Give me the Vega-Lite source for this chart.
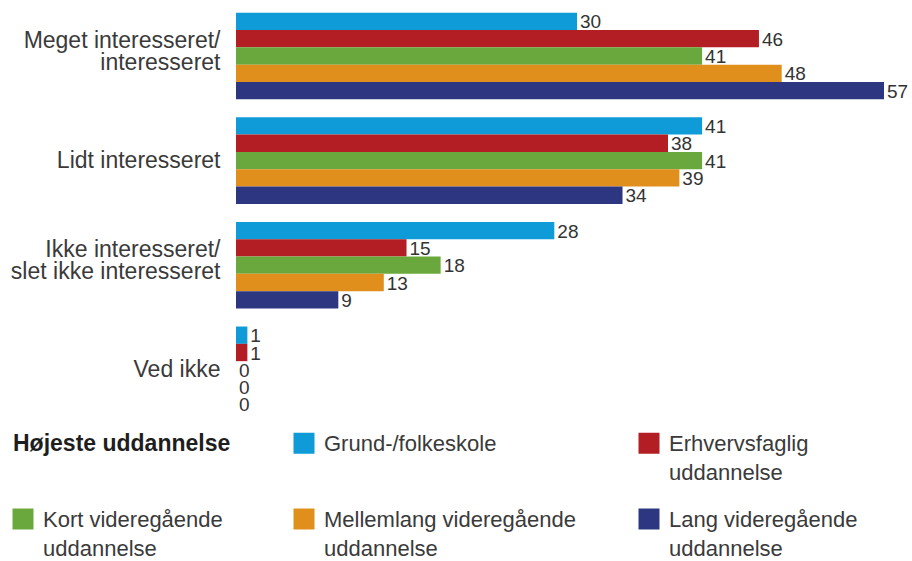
{
  "$schema": "https://vega.github.io/schema/vega-lite/v6.json",
  "width": 648,
  "height": 425.8,
  "autosize": {"type": "none"},
  "padding": {"left": 236, "top": 0, "right": 28, "bottom": 135.2},
  "background": "white",
  "config": {"view": {"stroke": null}, "font": "Liberation Sans"},
  "data": {
    "values": [
      {"svar": "Meget interesseret/interesseret", "uddannelse": "Grund-/folkeskole", "pct": 30},
      {"svar": "Meget interesseret/interesseret", "uddannelse": "Erhvervsfaglig uddannelse", "pct": 46},
      {"svar": "Meget interesseret/interesseret", "uddannelse": "Kort videregående uddannelse", "pct": 41},
      {"svar": "Meget interesseret/interesseret", "uddannelse": "Mellemlang videregående uddannelse", "pct": 48},
      {"svar": "Meget interesseret/interesseret", "uddannelse": "Lang videregående uddannelse", "pct": 57},
      {"svar": "Lidt interesseret", "uddannelse": "Grund-/folkeskole", "pct": 41},
      {"svar": "Lidt interesseret", "uddannelse": "Erhvervsfaglig uddannelse", "pct": 38},
      {"svar": "Lidt interesseret", "uddannelse": "Kort videregående uddannelse", "pct": 41},
      {"svar": "Lidt interesseret", "uddannelse": "Mellemlang videregående uddannelse", "pct": 39},
      {"svar": "Lidt interesseret", "uddannelse": "Lang videregående uddannelse", "pct": 34},
      {"svar": "Ikke interesseret/slet ikke interesseret", "uddannelse": "Grund-/folkeskole", "pct": 28},
      {"svar": "Ikke interesseret/slet ikke interesseret", "uddannelse": "Erhvervsfaglig uddannelse", "pct": 15},
      {"svar": "Ikke interesseret/slet ikke interesseret", "uddannelse": "Kort videregående uddannelse", "pct": 18},
      {"svar": "Ikke interesseret/slet ikke interesseret", "uddannelse": "Mellemlang videregående uddannelse", "pct": 13},
      {"svar": "Ikke interesseret/slet ikke interesseret", "uddannelse": "Lang videregående uddannelse", "pct": 9},
      {"svar": "Ved ikke", "uddannelse": "Grund-/folkeskole", "pct": 1},
      {"svar": "Ved ikke", "uddannelse": "Erhvervsfaglig uddannelse", "pct": 1},
      {"svar": "Ved ikke", "uddannelse": "Kort videregående uddannelse", "pct": 0},
      {"svar": "Ved ikke", "uddannelse": "Mellemlang videregående uddannelse", "pct": 0},
      {"svar": "Ved ikke", "uddannelse": "Lang videregående uddannelse", "pct": 0}
    ]
  },
  "encoding": {
    "y": {
      "field": "svar",
      "type": "nominal",
      "sort": ["Meget interesseret/interesseret", "Lidt interesseret", "Ikke interesseret/slet ikke interesseret", "Ved ikke"],
      "scale": {"paddingInner": 0.172, "paddingOuter": 0.121},
      "axis": {
        "title": null,
        "domain": false,
        "ticks": false,
        "grid": false,
        "labelPadding": 16,
        "labelFont": "Liberation Sans",
        "labelFontSize": 23,
        "labelColor": "#3a3a3a",
        "labelLineHeight": 22,
        "labelLimit": 300,
        "labelOffset": {"condition": {"test": "indexof(datum.label, '/') > 0", "value": -15}, "value": 0},
        "labelExpr": "indexof(datum.label, '/') > 0 ? [substring(datum.label, 0, indexof(datum.label, '/') + 1), substring(datum.label, indexof(datum.label, '/') + 1)] : datum.label"
      }
    },
    "yOffset": {
      "field": "uddannelse",
      "type": "nominal",
      "scale": {
        "domain": ["Grund-/folkeskole", "Erhvervsfaglig uddannelse", "Kort videregående uddannelse", "Mellemlang videregående uddannelse", "Lang videregående uddannelse"],
        "paddingInner": 0,
        "paddingOuter": 0
      }
    },
    "x": {
      "field": "pct",
      "type": "quantitative",
      "scale": {"domain": [0, 57], "nice": false},
      "axis": null
    }
  },
  "layer": [
    {
      "mark": {"type": "bar"},
      "encoding": {
        "color": {
          "field": "uddannelse",
          "type": "nominal",
          "scale": {
            "domain": ["Højeste uddannelse", "Grund-/folkeskole", "Erhvervsfaglig uddannelse", "Kort videregående uddannelse", "Mellemlang videregående uddannelse", "Lang videregående uddannelse"],
            "range": ["#ffffff", "#0f9bd7", "#b21e23", "#6aa83d", "#e08f1d", "#2d3681"]
          },
          "legend": {
            "orient": "none",
            "direction": "horizontal",
            "legendX": -224,
            "legendY": 431,
            "columns": 3,
            "columnPadding": 62,
            "rowPadding": 23,
            "padding": 0,
            "title": null,
            "symbolType": "square",
            "symbolSize": 441,
            "symbolStrokeWidth": 0,
            "labelFont": "Liberation Sans",
            "labelFontSize": 22,
            "labelColor": "#3a3a3a",
            "labelLimit": 400,
            "labelOffset": 9,
            "labelBaseline": "top",
            "labelExpr": "datum.label === 'Højeste uddannelse' || indexof(datum.label, ' uddannelse') < 0 ? [datum.label, ' '] : [replace(datum.label, ' uddannelse', ''), 'uddannelse']",
            "encode": {
              "symbols": {"update": {"opacity": {"signal": "datum.value === 'Højeste uddannelse' ? 0 : 1"}}},
              "labels": {
                "update": {
                  "dy": {"value": -9.5},
                  "lineHeight": {"value": 29},
                  "dx": {"signal": "datum.value === 'Højeste uddannelse' ? -30 : 0"},
                  "fontWeight": {"signal": "datum.value === 'Højeste uddannelse' ? 'bold' : 'normal'"},
                  "fontSize": {"signal": "datum.value === 'Højeste uddannelse' ? 23 : 22"},
                  "fill": {"signal": "datum.value === 'Højeste uddannelse' ? '#1e1e1e' : '#3a3a3a'"}
                }
              }
            }
          }
        }
      }
    },
    {
      "mark": {"type": "text", "align": "left", "baseline": "middle", "dx": 3, "dy": 1, "fontSize": 19, "font": "Liberation Sans", "color": "#333333"},
      "encoding": {"text": {"field": "pct", "type": "quantitative"}}
    }
  ]
}
